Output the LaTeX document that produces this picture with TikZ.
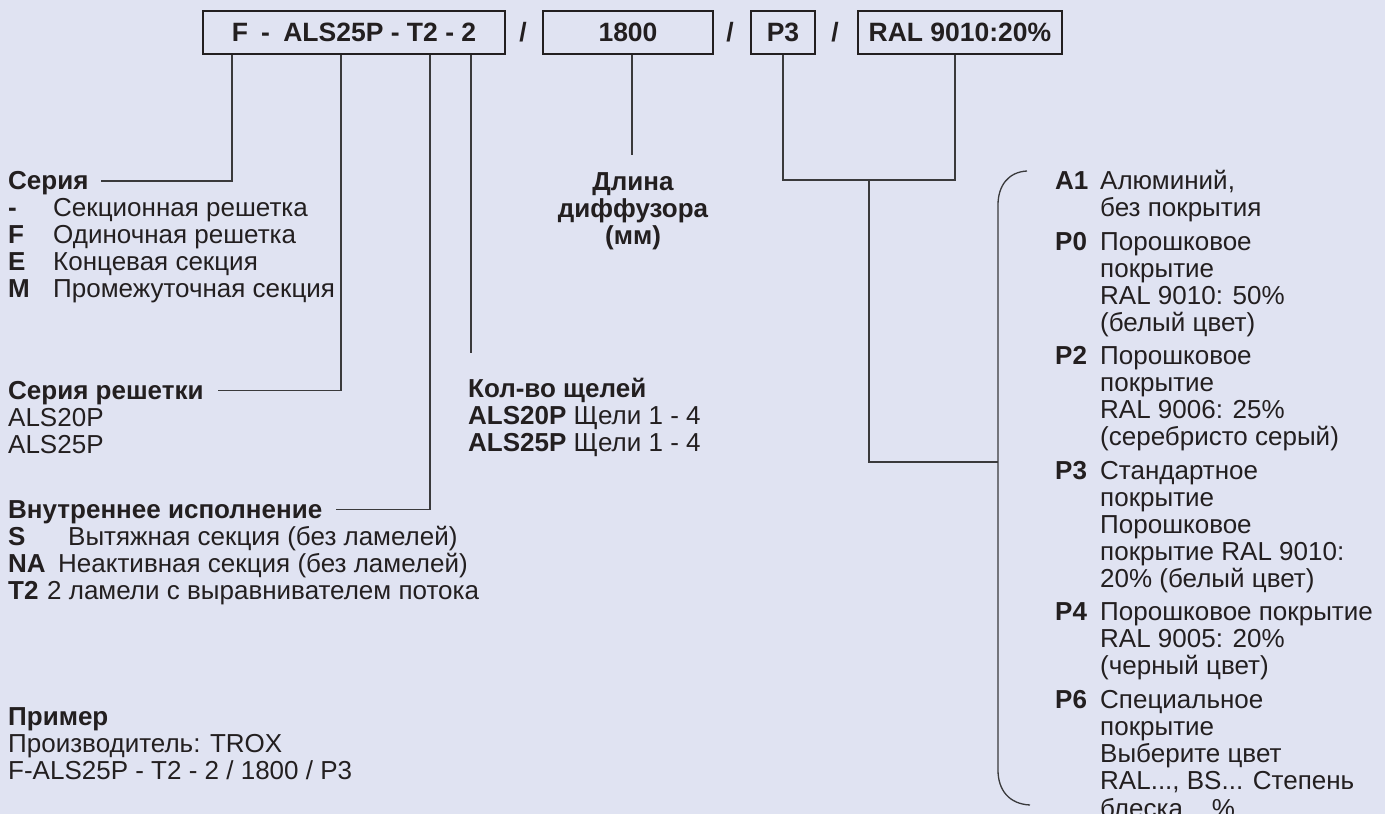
\documentclass[tikz,border=0pt]{standalone}
\usepackage{fontspec}
\setmainfont{Liberation Sans}
\definecolor{bg}{HTML}{E0E3F2}
\definecolor{ink}{HTML}{231F20}
\definecolor{lin}{HTML}{3A3A3C}
\begin{document}
\begin{tikzpicture}[x=1pt,y=-1pt,
  txt/.style={anchor=base west, inner sep=0pt, text=ink, font=\fontsize{26}{27}\selectfont},
  btxt/.style={txt, font=\fontsize{26}{27}\selectfont\bfseries},
  codebox/.style={draw=ink, line width=2pt, inner sep=0pt, minimum height=43pt, text=ink, font=\fontsize{26.5}{30}\selectfont\bfseries},
  slash/.style={inner sep=0pt, text=ink, font=\fontsize{26.5}{30}\selectfont\bfseries},
  conn/.style={draw=lin, line width=1.3pt},
]
\fill[bg] (0,0) rectangle (1385,814);
\useasboundingbox (0,0) rectangle (1385,814);

% code boxes
\node[codebox, minimum width=302pt] (b1) at (354,32.5) {F\hspace{0.5em}-\hspace{0.5em}ALS25P - T2 - 2};
\node[slash] (s1) at (523,32.5) {/};
\node[codebox, minimum width=170pt] (b2) at (628,32.5) {1800};
\node[slash] (s2) at (730,32.5) {/};
\node[codebox, minimum width=64pt] (b3) at (783,32.5) {P3};
\node[slash] (s3) at (835,32.5) {/};
\node[codebox, minimum width=204pt] (b4) at (960,32.5) {RAL 9010:20\%};

% connection points
\coordinate (pF) at ([xshift=-122pt]b1.south);
\coordinate (pS) at ([xshift=-13pt]b1.south);
\coordinate (pT) at ([xshift=76pt]b1.south);
\coordinate (pN) at ([xshift=117pt]b1.south);
\coordinate (pL) at ([xshift=4pt]b2.south);
\coordinate (pP) at (b3.south);
\coordinate (pR) at ([xshift=-5pt]b4.south);
\coordinate (nEnd) at (471,353);
\coordinate (lEnd) at (632,155);
\coordinate (jn) at (869,180);
\coordinate (bt) at (998,462);
\coordinate (brTop) at (1027,171);
\coordinate (brBot) at (1030,805);

% left column
\node[btxt] (ser) at (8,189.5) {Серия};
\node[btxt] (l1) at (8,216.5) {-};
\node[txt] (d1) at (53,216.5) {Секционная решетка};
\node[btxt] (l2) at (8,243.5) {F};
\node[txt] (d2) at (53,243.5) {Одиночная решетка};
\node[btxt] (l3) at (8,270.5) {E};
\node[txt] (d3) at (53,270.5) {Концевая секция};
\node[btxt] (l4) at (8,297.5) {M};
\node[txt] (d4) at (53,297.5) {Промежуточная секция};

\node[btxt] (sr) at (8,399.5) {Серия решетки};
\node[txt] (sr1) at (8,426.5) {ALS20P};
\node[txt] (sr2) at (8,453.5) {ALS25P};

\node[btxt] (vi) at (8,518.5) {Внутреннее исполнение};
\node[btxt] (v1) at (8,545.5) {S};
\node[txt] (vd1) at (68,545.5) {Вытяжная секция (без ламелей)};
\node[btxt] (v2) at (8,572.5) {NA};
\node[txt] (vd2) at (58,572.5) {Неактивная секция (без ламелей)};
\node[btxt] (v3) at (8,599.5) {T2};
\node[txt] (vd3) at (47,599.5) {2 ламели с выравнивателем потока};

\node[btxt] (ex) at (8,725.5) {Пример};
\node[txt] (ex1) at (8,752.5) {Производитель: TROX};
\node[txt] (ex2) at (8,779.5) {F-ALS25P - T2 - 2 / 1800 / P3};

% middle
\node[btxt, anchor=base] (dl) at (633,190.5) {Длина};
\node[btxt, anchor=base] (dd) at (633,217.5) {диффузора};
\node[btxt, anchor=base] (dm) at (633,244.5) {(мм)};

\node[btxt] (kv) at (468,397.5) {Кол-во щелей};
\node[txt] (kv1) at (468,424.5) {\bfseries ALS20P\mdseries{} Щели 1 - 4};
\node[txt] (kv2) at (468,451.5) {\bfseries ALS25P\mdseries{} Щели 1 - 4};

% right column labels
\node[btxt] (la1) at (1055,189.5) {A1};
\node[btxt] (lp0) at (1055,250) {P0};
\node[btxt] (lp2) at (1055,364.5) {P2};
\node[btxt] (lp3) at (1055,479) {P3};
\node[btxt] (lp4) at (1055,620.5) {P4};
\node[btxt] (lp6) at (1055,708) {P6};

% right column descriptions
\foreach \yy/\tt [count=\n] in {
  189.5/{Алюминий,}, 216.5/{без покрытия},
  250/{Порошковое}, 277/{покрытие}, 304/{RAL 9010: 50\%}, 331/{(белый цвет)},
  364.5/{Порошковое}, 391.5/{покрытие}, 418.5/{RAL 9006: 25\%}, 445.5/{(серебристо серый)},
  479/{Стандартное}, 506/{покрытие}, 533/{Порошковое}, 560/{покрытие RAL 9010:}, 587/{20\% (белый цвет)},
  620.5/{Порошковое покрытие}, 647.5/{RAL 9005: 20\%}, 674.5/{(черный цвет)},
  708/{Специальное}, 735/{покрытие}, 762/{Выберите цвет}, 789/{RAL..., BS... Степень}, 817/{блеска ...\%}}
  \node[txt] (r\n) at (1100,\yy) {\tt};

% connectors
\draw[conn] (pF) |- ([xshift=12pt,yshift=8.5pt]ser.base east);
\draw[conn] (pS) |- ([xshift=14pt,yshift=9pt]sr.base east);
\draw[conn] (pT) |- ([xshift=14pt,yshift=9pt]vi.base east);
\draw[conn] (pN) -- (nEnd);
\draw[conn] (pL) -- (lEnd);
\draw[conn] (pP) |- (jn) -| (pR);
\draw[conn] (jn) |- (bt);
\draw[conn] (brTop) .. controls (1008,172) and (998,186) .. (998,205) -- (998,770) .. controls (998,790) and (1009,804) .. (brBot);
\end{tikzpicture}
\end{document}
